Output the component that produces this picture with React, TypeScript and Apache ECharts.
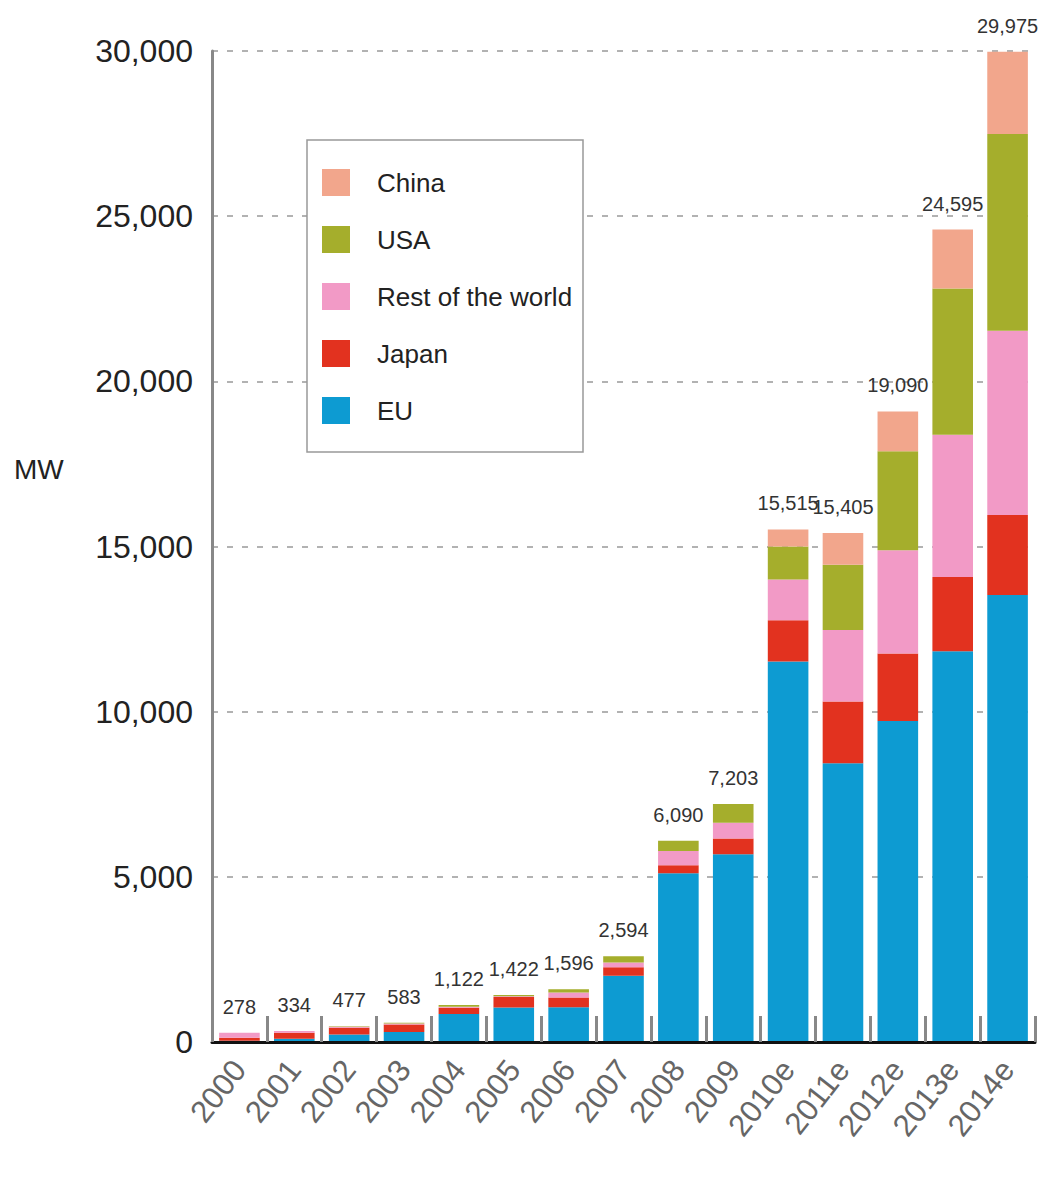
import React, { useEffect, useRef } from "react";
import * as echarts from "echarts";

const years = ["2000", "2001", "2002", "2003", "2004", "2005", "2006", "2007", "2008", "2009", "2010e", "2011e", "2012e", "2013e", "2014e"];
const euValues = [40, 100, 230, 300, 850, 1045, 1050, 2005, 5110, 5685, 11520, 8440, 9720, 11830, 13530];
const japanValues = [90, 180, 200, 230, 190, 320, 300, 255, 240, 475, 1250, 1870, 2040, 2250, 2420];
const restValues = [148, 54, 30, 30, 30, 20, 146, 150, 435, 480, 1230, 2160, 3130, 4305, 5580];
const usaValues = [0, 0, 17, 23, 52, 37, 100, 184, 305, 563, 1000, 1980, 2990, 4425, 5960];
const chinaValues = [0, 0, 0, 0, 0, 0, 0, 0, 0, 0, 515, 955, 1210, 1785, 2485];
const totalLabels = [278, 334, 477, 583, 1122, 1422, 1596, 2594, 6090, 7203, 15515, 15405, 19090, 24595, 29975];
const legendOrder = ["China", "USA", "Rest of the world", "Japan", "EU"];

const FONT = "'Liberation Sans', Arial, Helvetica, sans-serif";
const fmt = (v: number) => v.toLocaleString("en-US");

export default function App() {
  const ref = useRef<HTMLDivElement>(null);
  useEffect(() => {
    if (!ref.current) return;
    const chart = echarts.init(ref.current, null, { renderer: "svg" });
    const mk = (name: string, data: number[], color: string, withLabel = false) => ({
      name,
      type: "bar",
      stack: "total",
      data,
      barWidth: "74%",
      itemStyle: { color },
      label: withLabel
        ? {
            show: true,
            position: "top",
            distance: 16,
            fontFamily: FONT,
            fontSize: 20,
            color: "#333",
            formatter: (p: any) => fmt(totalLabels[p.dataIndex]),
          }
        : { show: false },
    });
    chart.setOption({
      animation: false,
      backgroundColor: "#fff",
      textStyle: { fontFamily: FONT },
      grid: { left: 212, right: 12, top: 51, bottom: 143, containLabel: false },
      legend: {
        data: legendOrder,
        orient: "vertical",
        left: 322,
        top: 169,
        padding: 0,
        itemWidth: 28,
        itemHeight: 27,
        itemGap: 30,
        icon: "rect",
        z: 6,
        textStyle: { fontSize: 26, color: "#222", fontFamily: FONT, padding: [0, 0, 0, 22] },
      },
      graphic: [
        {
          type: "rect",
          z: 5,
          shape: { x: 307, y: 140, width: 276, height: 312 },
          style: { fill: "#fff", stroke: "#999", lineWidth: 1.5 },
        },
        {
          type: "text",
          x: 14,
          y: 455,
          style: { text: "MW", font: `28px ${FONT}`, fill: "#222" },
        },
      ],
      xAxis: {
        type: "category",
        data: years,
        z: 10,
        axisLine: { lineStyle: { color: "#111", width: 3 } },
        axisTick: { show: true, inside: true, length: 26, lineStyle: { color: "#888", width: 3 } },
        axisLabel: { rotate: 52, fontSize: 31, color: "#666", margin: 22, fontFamily: FONT, interval: 0 },
      },
      yAxis: {
        type: "value",
        min: 0,
        max: 30000,
        interval: 5000,
        axisLine: { show: true, lineStyle: { color: "#888", width: 3 } },
        axisTick: { show: false },
        axisLabel: { fontSize: 32, color: "#222", margin: 19, fontFamily: FONT, formatter: (v: number) => fmt(v) },
        splitLine: { lineStyle: { color: "#999", type: [6, 9], width: 1.5 } },
      },
      series: [
        mk("EU", euValues, "#0d9bd2"),
        mk("Japan", japanValues, "#e2321f"),
        mk("Rest of the world", restValues, "#f29ac6"),
        mk("USA", usaValues, "#a5ae2c"),
        mk("China", chinaValues, "#f2a68c", true),
      ],
    });
    return () => chart.dispose();
  }, []);
  return <div ref={ref} style={{ position: "fixed", left: 0, top: 0, width: 1047, height: 1185 }} />;
}
